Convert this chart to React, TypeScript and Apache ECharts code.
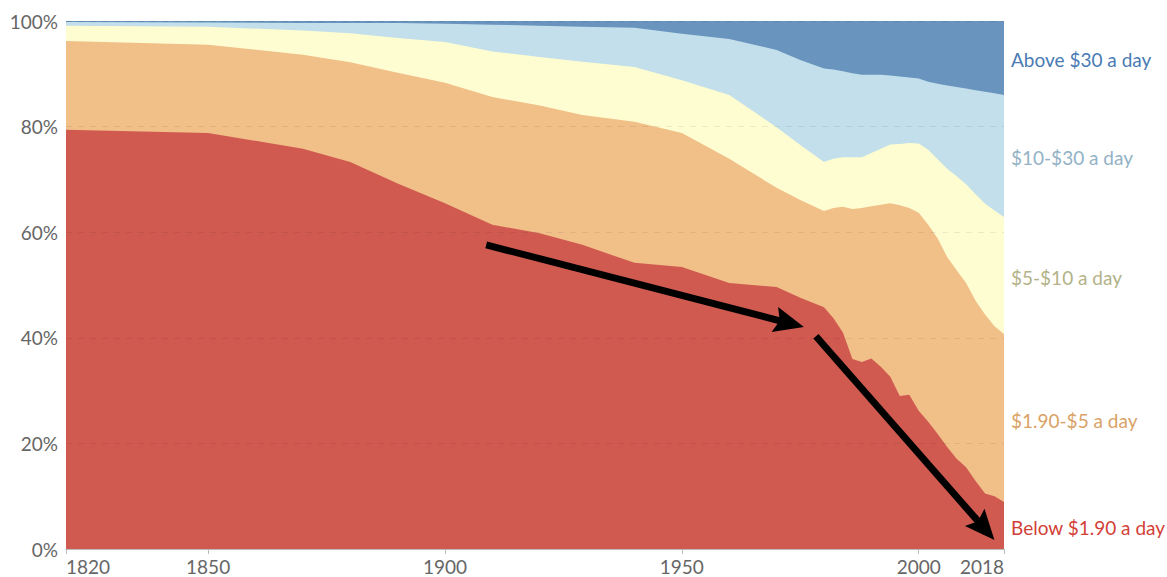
import { useEffect, useRef } from "react";
import * as echarts from "echarts";

const years = [1820, 1850, 1870, 1880, 1890, 1900, 1910, 1920, 1929, 1940, 1950, 1960, 1970, 1975, 1980, 1982, 1984, 1986, 1988, 1990, 1992, 1994, 1996, 1998, 2000, 2002, 2004, 2006, 2008, 2010, 2012, 2014, 2016, 2018];

const below190 = [79.4, 78.8, 75.8, 73.3, 69.2, 65.5, 61.4, 59.8, 57.6, 54.2, 53.4, 50.4, 49.6, 47.6, 45.8, 43.7, 41.0, 36.0, 35.4, 36.1, 34.5, 32.6, 29.0, 29.2, 26.2, 24.1, 21.8, 19.3, 17.1, 15.5, 12.9, 10.5, 10.0, 8.9];
const from190to5 = [16.8, 16.7, 17.8, 18.9, 21.0, 22.8, 24.2, 24.2, 24.6, 26.7, 25.4, 23.5, 18.8, 18.5, 18.2, 20.9, 23.8, 28.4, 29.2, 28.8, 30.7, 32.9, 36.1, 35.4, 37.5, 37.3, 37.0, 36.0, 35.7, 34.9, 34.1, 33.9, 32.2, 31.8];
const from5to10 = [2.9, 3.4, 4.6, 5.5, 6.6, 7.7, 8.6, 9.2, 10.1, 10.4, 10.0, 12.1, 11.5, 10.4, 9.3, 9.3, 9.4, 9.8, 9.6, 10.1, 10.6, 11.1, 11.6, 12.3, 13.1, 14.2, 15.0, 16.7, 17.8, 18.7, 20.2, 21.0, 21.9, 22.2];
const from10to30 = [0.7, 0.8, 1.4, 1.9, 2.8, 3.5, 5.1, 5.9, 6.6, 7.4, 8.8, 10.6, 14.6, 16.1, 17.7, 16.9, 16.3, 15.9, 15.6, 14.8, 14.0, 13.1, 12.8, 12.4, 12.3, 12.9, 14.3, 15.8, 16.9, 18.1, 19.7, 21.2, 22.2, 23.1];
const above30 = [0.2, 0.3, 0.4, 0.4, 0.4, 0.5, 0.7, 0.9, 1.1, 1.3, 2.4, 3.4, 5.5, 7.4, 9.0, 9.2, 9.5, 9.9, 10.2, 10.2, 10.2, 10.3, 10.5, 10.7, 10.9, 11.5, 11.9, 12.2, 12.5, 12.8, 13.1, 13.4, 13.7, 14.0];

const seriesNames = ["Below $1.90 a day", "$1.90-$5 a day", "$5-$10 a day", "$10-$30 a day", "Above $30 a day"];
const seriesValues = [below190, from190to5, from5to10, from10to30, above30];
const areaColors = ["#d05a50", "#f1bf88", "#fefdd2", "#c3dfeb", "#6894be"];
const labelColors = ["#d23f38", "#d9a266", "#b3b288", "#93b2c5", "#4a7bb4"];

const xTickValues = [1820, 1850, 1900, 1950, 2000, 2018];
const gridLineValues = [20, 40, 60, 80, 100];

// arrows: [startYear, startPct, endYear, endPct] (end = centre of the arrow head)
const arrows = [
  [1908.7, 57.6, 1972.7, 42.75],
  [1978.3, 40.3, 2013.9, 3.85],
];

const FONT = "Lato, 'Noto Sans', sans-serif";
const ARROW_HEAD = "path://M10,0 L20,24 L10,20 L0,24 Z";

export default function App() {
  const ref = useRef<HTMLDivElement>(null);

  useEffect(() => {
    if (!ref.current) return;
    const chart = echarts.init(ref.current, null, { renderer: "svg" });

    // stack the shares manually (ECharts would stack on x with two value axes)
    const cumulative: number[][] = [];
    seriesValues.forEach((vals, i) => {
      cumulative.push(vals.map((v, k) => (i === 0 ? v : cumulative[i - 1][k] + v)));
    });

    const lastIdx = years.length - 1;
    const lastYear = years[lastIdx];
    const labelPoints = seriesValues.map((vals, i) => {
      const top = cumulative[i][lastIdx];
      return {
        coord: [lastYear, top - vals[lastIdx] / 2],
        name: seriesNames[i],
        label: { color: labelColors[i] },
      };
    });

    // draw the top band first so each lower band covers the one above it
    const series: any[] = [];
    for (let i = seriesValues.length - 1; i >= 0; i--) {
      series.push({
        name: seriesNames[i],
        type: "line",
        symbol: "none",
        silent: true,
        data: years.map((y, k) => [y, cumulative[i][k]]),
        lineStyle: { width: 0 },
        areaStyle: { color: areaColors[i], opacity: 1 },
        z: 2,
      });
    }
    const last = series[series.length - 1];

    // faint dashed grid lines over areas + right-hand labels
    last.markLine = {
      silent: true,
      symbol: ["none", "none"],
      label: { show: false },
      lineStyle: { color: "rgba(0,0,0,0.07)", type: [6, 6], width: 1 },
      data: gridLineValues.map((v) => ({ yAxis: v })),
    };
    last.markPoint = {
      silent: true,
      symbol: "circle",
      symbolSize: 0,
      label: {
        show: true,
        position: "right",
        distance: 7,
        offset: [0, 2],
        formatter: "{b}",
        fontFamily: FONT,
        fontSize: 19,
      },
      data: labelPoints,
    };
    // black arrows (on a series drawn after the grid lines)
    series.push({
      type: "line",
      data: [],
      silent: true,
      markLine: {
        silent: true,
        symbol: ["none", ARROW_HEAD],
        symbolSize: [26, 30],
        label: { show: false },
        itemStyle: { color: "#000" },
        lineStyle: { color: "#000", type: "solid", width: 7, opacity: 1 },
        data: arrows.map((a) => [{ coord: [a[0], a[1]] }, { coord: [a[2], a[3]] }]),
      },
    });

    chart.setOption({
      animation: false,
      backgroundColor: "#fff",
      grid: { left: 66, right: 163, top: 21, bottom: 28 },
      xAxis: {
        type: "value",
        min: 1820,
        max: 2018,
        axisLine: { show: true, lineStyle: { color: "#bbb" } },
        axisTick: { show: true, length: 5, lineStyle: { color: "#bbb" }, customValues: xTickValues },
        axisLabel: {
          customValues: xTickValues,
          color: "#666",
          fontSize: 19,
          fontFamily: FONT,
          margin: 8,
          alignMinLabel: "left",
          alignMaxLabel: "right",
          formatter: (v: number) => String(v),
        },
        splitLine: { show: false },
      },
      yAxis: {
        type: "value",
        min: 0,
        max: 100,
        interval: 20,
        axisLine: { show: false },
        axisTick: { show: false },
        axisLabel: { color: "#666", fontSize: 19, fontFamily: FONT, margin: 8, formatter: "{value}%" },
        splitLine: { show: false },
      },
      series,
    });

    return () => chart.dispose();
  }, []);

  return (
    <div
      ref={ref}
      style={{ position: "fixed", left: 0, top: 0, width: 1167, height: 577 }}
    />
  );
}
